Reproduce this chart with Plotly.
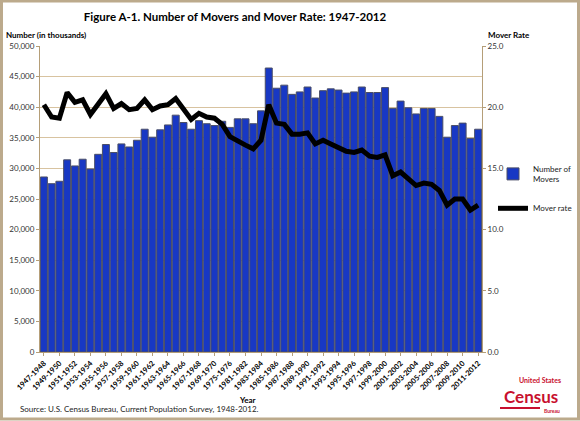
import plotly.graph_objects as go

years = (
    [f"{y}-{y+1}" for y in range(1947, 1971)]
    + ["1975-1976"]
    + [f"{y}-{y+1}" for y in range(1980, 2012)]
)

movers = [
    28600, 27500, 27900, 31400, 30400, 31500, 29900, 32300, 33900, 32600,
    34000, 33500, 34600, 36400, 35100, 36300, 37100, 38700, 37500, 36400,
    37800, 37300, 37000, 37700, 36700, 38100, 38100, 37300, 39400, 46400,
    43100, 43600, 42100, 42500, 43300, 41500, 42700, 43000, 42800, 42300,
    42500, 43300, 42400, 42400, 43200, 39800, 41000, 39900, 38900, 39800,
    39800, 38500, 35100, 37000, 37400, 34900, 36400,
]

rate = [
    20.2, 19.2, 19.1, 21.2, 20.4, 20.6, 19.4, 20.3, 21.1, 19.9,
    20.3, 19.8, 19.9, 20.6, 19.8, 20.1, 20.2, 20.7, 19.8, 19.0,
    19.5, 19.2, 19.1, 18.6, 17.6, 17.2, 16.9, 16.6, 17.3, 20.2,
    18.7, 18.6, 17.8, 17.8, 17.9, 17.0, 17.3, 17.0, 16.7, 16.4,
    16.3, 16.5, 16.0, 15.9, 16.1, 14.4, 14.7, 14.2, 13.6, 13.8,
    13.7, 13.2, 12.0, 12.5, 12.5, 11.6, 12.0,
]

tick_labels = years[0:24:2] + ["1975-1976"] + years[26::2]

FONT = "Lato"
W, H = 580, 421
L, R, T, B = 40, 98, 46, 69
PW, PH = W - L - R, H - T - B


def px(x):
    return (x - L) / PW


def py(y):
    return (H - B - y) / PH


fig = go.Figure()
fig.add_trace(go.Bar(
    x=years, y=movers, name="Number of<br>Movers",
    marker=dict(color="#1838C4", line=dict(color="#4A4E66", width=1)),
    legendgroup="a",
))
fig.add_trace(go.Scatter(
    x=years, y=rate, name="Mover rate", yaxis="y2", mode="lines",
    line=dict(color="black", width=5), legendgroup="b",
))

axis_col = "#B59E78"
fig.update_layout(
    width=W, height=H,
    margin=dict(l=L, r=R, t=T, b=B, autoexpand=False),
    paper_bgcolor="white", plot_bgcolor="white",
    font=dict(family=FONT, size=8, color="#222"),
    bargap=0.1,
    title=dict(
        text="<b>Figure A-1. Number of Movers and Mover Rate: 1947-2012</b>",
        x=235 / W, y=1 - 17 / H, xanchor="center", yanchor="middle",
        font=dict(family=FONT, size=11.5, color="black"),
    ),
    xaxis=dict(
        type="category", tickmode="array", tickvals=tick_labels,
        ticktext=[f"<b>{t}</b>" for t in tick_labels],
        tickangle=-45, tickfont=dict(size=7.5, color="black"),
        showline=True, linecolor=axis_col, ticks="outside", ticklen=3,
        tickcolor=axis_col, showgrid=False,
    ),
    yaxis=dict(
        range=[0, 50000], dtick=5000, tickformat=",d",
        showgrid=True, gridcolor="#D8C3A0", gridwidth=1,
        showline=True, linecolor=axis_col, ticks="outside", ticklen=3,
        tickcolor=axis_col, tickfont=dict(size=8, color="#333"),
        zeroline=False,
    ),
    yaxis2=dict(
        range=[0, 25], dtick=5, tickformat=".1f", overlaying="y",
        side="right", showgrid=False, showline=True, linecolor=axis_col,
        ticks="outside", ticklen=3, tickcolor=axis_col,
        tickfont=dict(size=8, color="#333"), zeroline=False,
    ),
    legend=dict(
        x=px(493), y=py(157), xanchor="left", yanchor="top",
        font=dict(size=8, color="#222"), tracegroupgap=13, itemwidth=30,
        bgcolor="rgba(0,0,0,0)",
    ),
    showlegend=True,
)

annos = [
    dict(text="<b>Number (in thousands)</b>", x=px(4), y=py(35),
         xanchor="left", yanchor="middle", font=dict(size=8, color="black")),
    dict(text="<b>Mover Rate</b>", x=px(486), y=py(35),
         xanchor="left", yanchor="middle", font=dict(size=8, color="black")),
    dict(text="<b>Year</b>", x=px(247), y=py(400),
         xanchor="center", yanchor="middle", font=dict(size=8, color="black")),
    dict(text="Source: U.S. Census Bureau, Current Population Survey, 1948-2012.",
         x=px(18), y=py(409), xanchor="left", yanchor="middle",
         font=dict(size=8, color="#222")),
    dict(text="<b>United States</b>", x=px(563), y=py(380),
         xanchor="right", yanchor="middle", font=dict(size=7, color="#C8102E")),
    dict(text="<b>Census</b>", x=px(531), y=py(396),
         xanchor="center", yanchor="middle",
         font=dict(size=17, color="#C8102E")),
    dict(text="<b>Bureau</b>", x=px(562), y=py(411),
         xanchor="right", yanchor="middle", font=dict(size=5, color="#C8102E")),
]
for a in annos:
    a.update(xref="paper", yref="paper", showarrow=False)
fig.update_layout(annotations=annos)

fig.add_shape(type="rect", xref="paper", yref="paper",
              x0=px(1.5), x1=px(W - 1.5), y0=py(H - 2), y1=py(1),
              line=dict(color="#BCAA8C", width=3), fillcolor="rgba(0,0,0,0)")
fig.add_shape(type="rect", xref="paper", yref="paper",
              x0=px(500), x1=px(540), y0=py(409), y1=py(407),
              line=dict(width=0), fillcolor="#C8102E")

fig.write_html("out.html")
